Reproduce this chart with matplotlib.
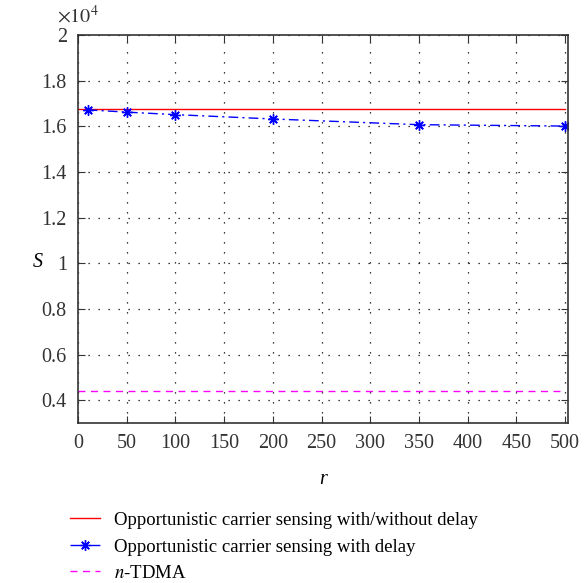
import numpy as np
import matplotlib
matplotlib.use("Agg")
import matplotlib.pyplot as plt
from matplotlib.ticker import FuncFormatter

# 数据
r_vals = [10, 50, 100, 200, 350, 500]
s_delay = [16720, 16620, 16510, 16320, 16070, 16010]
s_nodelay = 16770
s_tdma = 4400

x_ticks = np.arange(0, 501, 50)
y_ticks = [4000, 6000, 8000, 10000, 12000, 14000, 16000, 18000, 20000]

plt.rcParams["font.family"] = ["Liberation Serif", "DejaVu Serif"]
plt.rcParams["mathtext.fontset"] = "stix"

fig = plt.figure(figsize=(5.85, 5.83), dpi=100)
ax = fig.add_axes([0.1333, 0.2744, 0.8377, 0.6656])

l1, = ax.plot([0, 500], [s_nodelay, s_nodelay], color="red", lw=1.0)
l2, = ax.plot(r_vals, s_delay, color="blue", lw=1.0, ls=(0, (7, 3, 1.5, 3)),
              marker=(8, 2, 0), markersize=7.5, markeredgewidth=1.0)
l3, = ax.plot([0, 500], [s_tdma, s_tdma], color="magenta", lw=1.0, ls=(0, (5, 4)))

ax.set_xlim(0, 503)
ax.set_ylim(3000, 20000)
ax.set_xticks(x_ticks)
ax.set_yticks(y_ticks)
ax.yaxis.set_major_formatter(FuncFormatter(lambda v, p: "%g" % (v / 1e4)))
ax.grid(True, color="black", ls=(0, (1, 7)), lw=0.9)
ax.tick_params(direction="in", top=True, right=True, labelsize=14.5, length=5,
               colors="#333333", pad=8)
for sp in ax.spines.values():
    sp.set_linewidth(1.2)
    sp.set_color("#333333")

ax.set_xlabel("r", style="italic", fontsize=14.5, labelpad=12)
fig.text(0.065, 0.549, "S", style="italic", fontsize=14.5, ha="center", va="center")
fig.text(0.097, 0.972, r"$\times 10^4$", fontsize=14.5, va="center", color="#333333")

fig.legend([l1, l2, l3],
           ["Opportunistic carrier sensing with/without delay",
            "Opportunistic carrier sensing with delay",
            r"$n$-TDMA"],
           loc="upper left", bbox_to_anchor=(0.103, 0.138), frameon=False,
           fontsize=13.5, handlelength=1.6, handletextpad=0.75,
           labelspacing=0.5, borderpad=0)

fig.savefig("out.png", dpi=100)
